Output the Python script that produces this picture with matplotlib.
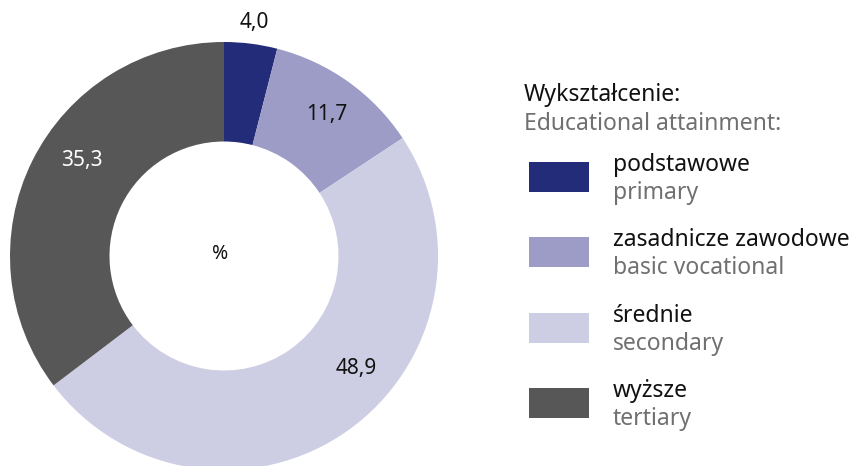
import matplotlib.pyplot as plt
from matplotlib.patches import Rectangle
import numpy as np

plt.rcParams['font.family'] = ['Noto Sans', 'DejaVu Sans']

# data
labels_pl = ['podstawowe', 'zasadnicze zawodowe', 'średnie', 'wyższe']
labels_en = ['primary', 'basic vocational', 'secondary', 'tertiary']
values = [4.0, 11.7, 48.9, 35.3]
colors = ['#232c78', '#9d9cc6', '#cdcde3', '#575757']
value_text_colors = ['#111111', '#111111', '#111111', '#ffffff']

W, H = 855, 466
fig = plt.figure(figsize=(W / 100, H / 100), dpi=100)

# donut axes: centre (224, 256) px, radius 214 px
cx, cy, R = 224, 256, 214
ax = fig.add_axes([(cx - R) / W, (H - cy - R) / H, 2 * R / W, 2 * R / H])
ax.pie(values, colors=colors, startangle=90, counterclock=False,
       wedgeprops=dict(width=0.465, edgecolor='none'), radius=1.0)
ax.set_xlim(-1, 1)
ax.set_ylim(-1, 1)
ax.set_aspect('equal')
ax.axis('off')

# value labels (angle in degrees, distance from centre in radius units)
label_pos = [(82.5, 1.10), (54, 0.82), (-40.5, 0.81), (146, 0.80)]
for v, (ang, r), tc in zip(values, label_pos, value_text_colors):
    a = np.deg2rad(ang)
    ax.text(r * np.cos(a), r * np.sin(a), f'{v:.1f}'.replace('.', ','),
            ha='center', va='center', fontsize=15, color=tc, clip_on=False)
ax.text(-0.02, 0.01, '%', ha='center', va='center', fontsize=14, color='#111111')

# legend drawn in figure pixel space
lg = fig.add_axes([0, 0, 1, 1])
lg.set_xlim(0, W)
lg.set_ylim(H, 0)
lg.axis('off')
fs = 16.5
lg.text(524, 95, 'Wykształcenie:', fontsize=fs, color='#111111', va='center')
lg.text(524, 124, 'Educational attainment:', fontsize=fs, color='#707070', va='center')
for i, (pl, en, c) in enumerate(zip(labels_pl, labels_en, colors)):
    y0 = 162 + i * 75.3
    lg.add_patch(Rectangle((529, y0), 60, 30, facecolor=c, edgecolor='none'))
    lg.text(613, y0 + 3, pl, fontsize=fs, color='#111111', va='center')
    lg.text(613, y0 + 31, en, fontsize=fs, color='#707070', va='center')

fig.savefig('out.png', dpi=100)
